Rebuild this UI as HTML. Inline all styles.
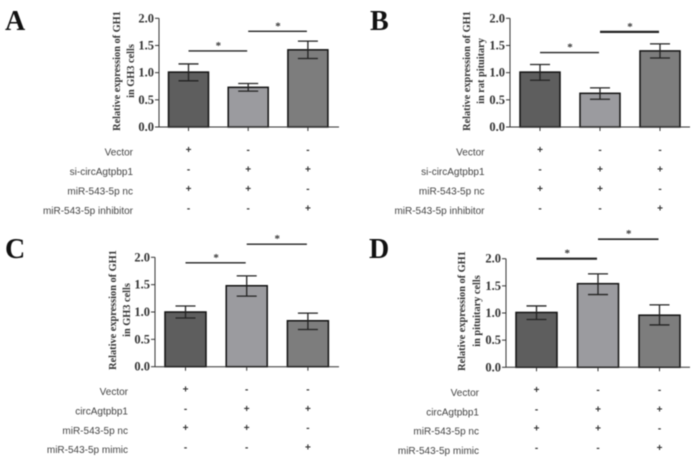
<!DOCTYPE html>
<html lang="en">
<head>
<meta charset="utf-8">
<title>Relative expression of GH1</title>
<style>
html,body{margin:0;padding:0;background:#fff;}
body{width:700px;height:463px;overflow:hidden;}
svg{display:block;filter:blur(0.45px);}
.panel-letter{font-family:"Liberation Serif",serif;font-weight:bold;font-size:28px;fill:#111;}
.axis-title{font-family:"Liberation Serif",serif;font-weight:bold;font-size:10.3px;fill:#333;text-anchor:middle;}
.tick{font-family:"Liberation Serif",serif;font-weight:bold;font-size:12.5px;fill:#333;text-anchor:end;}
.row-label{font-family:"Liberation Sans",sans-serif;font-size:10px;fill:#444;text-anchor:end;}
.sign{font-family:"Liberation Sans",sans-serif;font-size:10px;font-weight:bold;fill:#333;text-anchor:middle;}
.star{font-family:"Liberation Serif",serif;font-weight:bold;font-size:11px;fill:#333;text-anchor:middle;}
</style>
</head>
<body>
<svg id="figure" width="700" height="463" viewBox="0 0 700 463" xmlns="http://www.w3.org/2000/svg">
  <text class="panel-letter" x="5" y="30">A</text>
  <text class="panel-letter" x="370" y="30">B</text>
  <text class="panel-letter" x="5" y="258">C</text>
  <text class="panel-letter" x="369" y="258">D</text>

  <g>
    <text class="axis-title" transform="translate(120,71) rotate(-90)">Relative expression of GH1</text>
    <text class="axis-title" transform="translate(134,71) rotate(-90)">in GH3 cells</text>
  </g>
  <g>
    <text class="axis-title" transform="translate(470,71) rotate(-90)">Relative expression of GH1</text>
    <text class="axis-title" transform="translate(484,71) rotate(-90)">in rat pituitary</text>
  </g>
  <g>
    <text class="axis-title" transform="translate(116,310) rotate(-90)">Relative expression of GH1</text>
    <text class="axis-title" transform="translate(130,310) rotate(-90)">in GH3 cells</text>
  </g>
  <g>
    <text class="axis-title" transform="translate(465,311) rotate(-90)">Relative expression of GH1</text>
    <text class="axis-title" transform="translate(480,311) rotate(-90)">in pituitary cells</text>
  </g>
</svg>
<script>
// ---- tick labels ----
var tickValues = [0, 0.5, 1, 1.5, 2];
var tickLabels = ["0.0", "0.5", "1.0", "1.5", "2.0"];

// ---- panel A ----
var categoriesA = ["group-1", "group-2", "group-3"];
var meansA = [1.01, 0.73, 1.42];
var errHighA = [1.16, 0.80, 1.58];
var errLowA = [0.85, 0.66, 1.26];
var rowLabelsA = ["Vector", "si-circAgtpbp1", "miR-543-5p nc", "miR-543-5p inhibitor"];
var signsA = [["+", "-", "-"], ["-", "+", "+"], ["+", "+", "-"], ["-", "-", "+"]];
var sigLevelsA = [1.40, 1.76];

// ---- panel B ----
var categoriesB = ["group-1", "group-2", "group-3"];
var meansB = [1.01, 0.62, 1.40];
var errHighB = [1.15, 0.72, 1.53];
var errLowB = [0.86, 0.51, 1.27];
var rowLabelsB = ["Vector", "si-circAgtpbp1", "miR-543-5p nc", "miR-543-5p inhibitor"];
var signsB = [["+", "-", "-"], ["-", "+", "+"], ["+", "+", "-"], ["-", "-", "+"]];
var sigLevelsB = [1.37, 1.75];

// ---- panel C ----
var categoriesC = ["group-1", "group-2", "group-3"];
var meansC = [1.00, 1.48, 0.84];
var errHighC = [1.11, 1.66, 0.98];
var errLowC = [0.89, 1.29, 0.68];
var rowLabelsC = ["Vector", "circAgtpbp1", "miR-543-5p nc", "miR-543-5p mimic"];
var signsC = [["+", "-", "-"], ["-", "+", "+"], ["+", "+", "-"], ["-", "-", "+"]];
var sigLevelsC = [1.90, 2.24];

// ---- panel D ----
var categoriesD = ["group-1", "group-2", "group-3"];
var meansD = [1.01, 1.54, 0.96];
var errHighD = [1.13, 1.72, 1.15];
var errLowD = [0.88, 1.34, 0.78];
var rowLabelsD = ["Vector", "circAgtpbp1", "miR-543-5p nc", "miR-543-5p mimic"];
var signsD = [["+", "-", "-"], ["-", "+", "+"], ["+", "+", "-"], ["-", "-", "+"]];
var sigLevelsD = [2.00, 2.36];

var barColors = ["#5e5e5e", "#9b9b9f", "#7d7d7d"];

var NS = "http://www.w3.org/2000/svg";
var svg = document.getElementById("figure");

function make(tag, attrs, parent, text) {
  var el = document.createElementNS(NS, tag);
  for (var k in attrs) { el.setAttribute(k, attrs[k]); }
  if (text !== undefined) { el.textContent = text; }
  parent.appendChild(el);
  return el;
}

function drawPanel(p) {
  var scaleY = function (v) { return p.y0 + (p.y2 - p.y0) * v / 2; };
  var scaleX = function (i) { return p.firstX + p.stepX * i; };

  var g = make("g", {}, svg);
  
  

  p.means.forEach(function (m, i) {
    var cx = scaleX(i);
    var bar = make("rect", {
      x: cx - p.barW / 2, y: scaleY(m), width: p.barW, height: p.y0 - scaleY(m),
      fill: barColors[i], stroke: "#111", "stroke-width": 1.5
    }, g);
    
    

    var err = make("path", {
      d: "M" + (cx - 10) + " " + scaleY(p.errHigh[i]) + "H" + (cx + 10) +
         "M" + cx + " " + scaleY(p.errHigh[i]) + "V" + scaleY(p.errLow[i]) +
         "M" + (cx - 10) + " " + scaleY(p.errLow[i]) + "H" + (cx + 10),
      fill: "none", stroke: "#222", "stroke-width": 1.3
    }, g);
    
    

    var xt = make("line", { x1: cx, x2: cx, y1: p.y0, y2: p.y0 + 4, stroke: "#333", "stroke-width": 1 }, g);
    
    
  });

  var yAxis = make("line", { x1: p.axisX, x2: p.axisX, y1: p.y2, y2: p.y0, stroke: "#333", "stroke-width": 1 }, g);
  
  

  var xAxis = make("line", { x1: p.axisX, x2: p.right, y1: p.y0, y2: p.y0, stroke: "#333", "stroke-width": 1 }, g);
  
  

  tickValues.forEach(function (v, i) {
    var t = make("line", { x1: p.axisX - 4, x2: p.axisX, y1: scaleY(v), y2: scaleY(v), stroke: "#333", "stroke-width": 1 }, g);
    
    
    var lbl = make("text", { "class": "tick", x: p.axisX - 5, y: scaleY(v) + 4 }, g, tickLabels[i]);
    
    
  });

  p.sigLevels.forEach(function (lvl, i) {
    var line = make("line", {
      x1: scaleX(i), x2: scaleX(i + 1) - 1, y1: scaleY(lvl), y2: scaleY(lvl),
      stroke: "#222", "stroke-width": p.sigWidths[i]
    }, g);
    
    
    var star = make("text", {
      "class": "star", x: (scaleX(i) + scaleX(i + 1)) / 2, y: scaleY(lvl) - 2
    }, g, "*");
    
    
  });

  p.rowLabels.forEach(function (label, r) {
    var lbl = make("text", { "class": "row-label", x: p.rowRight, y: p.rowY + p.rowStep * r + 3.5 }, g, label);
    
    
    p.signs[r].forEach(function (s, c) {
      var sign = make("text", { "class": "sign", x: scaleX(c), y: p.signY + p.rowStep * r + 3.5 }, g, s);
      
      
    });
  });
}

drawPanel({ id: "a", categories: categoriesA, means: meansA, errHigh: errHighA, errLow: errLowA,
  rowLabels: rowLabelsA, signs: signsA, sigLevels: sigLevelsA, sigWidths: [1.4, 1.4],
  axisX: 159, right: 339, y0: 127, y2: 18.3, firstX: 188.5, stepX: 59.7, barW: 40,
  rowRight: 133, rowY: 152, rowStep: 19.5, signY: 149.5 });
drawPanel({ id: "b", categories: categoriesB, means: meansB, errHigh: errHighB, errLow: errLowB,
  rowLabels: rowLabelsB, signs: signsB, sigLevels: sigLevelsB, sigWidths: [1.4, 2.2],
  axisX: 510, right: 690, y0: 127, y2: 18.3, firstX: 540, stepX: 60, barW: 40,
  rowRight: 484.5, rowY: 152, rowStep: 19.5, signY: 149.5 });
drawPanel({ id: "c", categories: categoriesC, means: meansC, errHigh: errHighC, errLow: errLowC,
  rowLabels: rowLabelsC, signs: signsC, sigLevels: sigLevelsC, sigWidths: [1.4, 1.4],
  axisX: 155, right: 339, y0: 366.7, y2: 257.3, firstX: 185.5, stepX: 61.2, barW: 41,
  rowRight: 128, rowY: 391.7, rowStep: 19.3, signY: 389 });
drawPanel({ id: "d", categories: categoriesD, means: meansD, errHigh: errHighD, errLow: errLowD,
  rowLabels: rowLabelsD, signs: signsD, sigLevels: sigLevelsD, sigWidths: [2.2, 1.6],
  axisX: 506, right: 690, y0: 367.3, y2: 258.7, firstX: 536.5, stepX: 61.5, barW: 41,
  rowRight: 479, rowY: 392.5, rowStep: 19.3, signY: 389.5 });
</script>
</body>
</html>
